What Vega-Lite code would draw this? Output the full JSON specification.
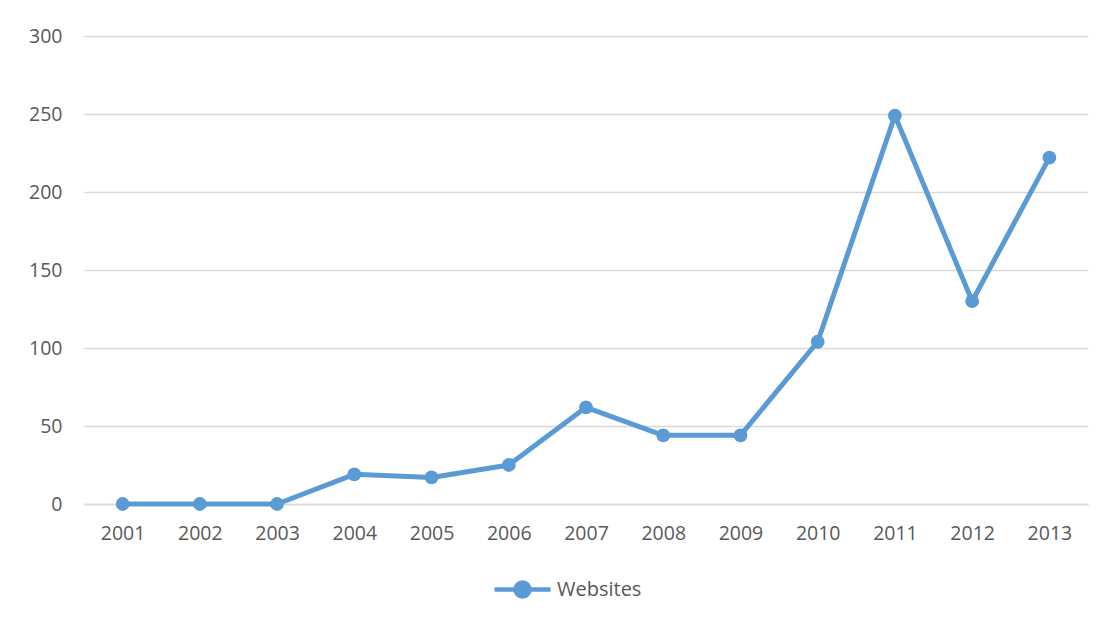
{
  "$schema": "https://vega.github.io/schema/vega-lite/v6.json",
  "width": 1004,
  "height": 468,
  "autosize": {"type": "none"},
  "padding": {"left": 84, "top": 36, "right": 18, "bottom": 120},
  "background": "white",
  "data": {
    "values": [
      {"year": "2001", "value": 0, "series": "Websites"},
      {"year": "2002", "value": 0, "series": "Websites"},
      {"year": "2003", "value": 0, "series": "Websites"},
      {"year": "2004", "value": 19, "series": "Websites"},
      {"year": "2005", "value": 17, "series": "Websites"},
      {"year": "2006", "value": 25, "series": "Websites"},
      {"year": "2007", "value": 62, "series": "Websites"},
      {"year": "2008", "value": 44, "series": "Websites"},
      {"year": "2009", "value": 44, "series": "Websites"},
      {"year": "2010", "value": 104, "series": "Websites"},
      {"year": "2011", "value": 249, "series": "Websites"},
      {"year": "2012", "value": 130, "series": "Websites"},
      {"year": "2013", "value": 222, "series": "Websites"}
    ]
  },
  "encoding": {
    "x": {
      "field": "year",
      "type": "ordinal",
      "scale": {"type": "point", "padding": 0.5},
      "axis": {
        "title": null,
        "labelAngle": 0,
        "ticks": false,
        "tickSize": 0,
        "domain": true,
        "domainColor": "#d9d9d9",
        "domainWidth": 1.5,
        "labelPadding": 20,
        "grid": false
      }
    },
    "y": {
      "field": "value",
      "type": "quantitative",
      "scale": {"domain": [0, 300], "nice": false},
      "axis": {
        "title": null,
        "values": [0, 50, 100, 150, 200, 250, 300],
        "ticks": false,
        "tickSize": 0,
        "domain": false,
        "grid": true,
        "gridColor": "#d9d9d9",
        "gridWidth": 1.5,
        "labelPadding": 22
      }
    },
    "color": {
      "field": "series",
      "type": "nominal",
      "scale": {"range": ["#5b9bd5"]},
      "legend": {
        "title": null,
        "orient": "none",
        "legendX": 408,
        "legendY": 523,
        "symbolType": "M-1,0H-0.25A0.25,0.25 0 1,1 0.25,0A0.25,0.25 0 1,1 -0.25,0M0.25,0H1",
        "symbolSize": 3136,
        "symbolStrokeWidth": 4.5,
        "symbolFillColor": "#5b9bd5",
        "symbolStrokeColor": "#5b9bd5",
        "symbolOffset": 0,
        "labelOffset": 4,
        "labelFontSize": 20,
        "labelColor": "#595959",
        "labelFont": "Open Sans"
      }
    }
  },
  "layer": [
    {"mark": {"type": "line", "strokeWidth": 5, "strokeCap": "round", "strokeJoin": "round"}},
    {"mark": {"type": "point", "filled": true, "size": 190, "opacity": 1}}
  ],
  "config": {
    "view": {"stroke": null},
    "axis": {
      "labelFont": "Open Sans",
      "labelFontSize": 19.5,
      "labelColor": "#595959"
    }
  }
}
